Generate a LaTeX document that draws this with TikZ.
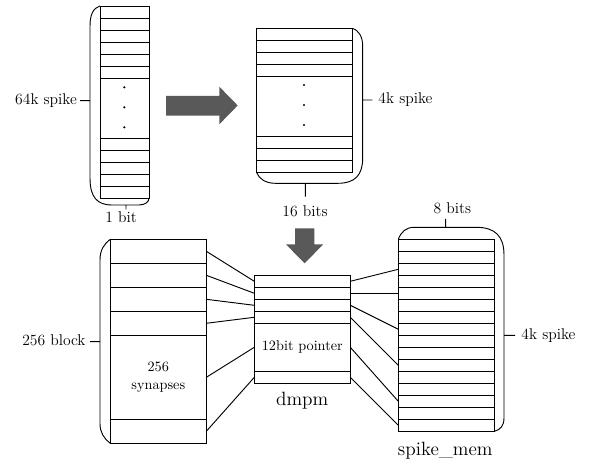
\documentclass[tikz,border=0pt]{standalone}
\usepackage{tikz}
\definecolor{arrgray}{HTML}{595959}

\tikzset{
  cell/.style={rectangle,draw,inner sep=0pt,outer sep=0pt},
  lbl/.style={inner sep=0pt,font=\rmfamily\fontsize{11.7}{14}\selectfont},
  title/.style={inner sep=0pt,font=\rmfamily\fontsize{14.4}{17}\selectfont},
  intext/.style={font=\rmfamily\fontsize{10.7}{13.9}\selectfont,align=center}
}

\begin{document}
\begin{tikzpicture}[x=0.75pt,y=-0.75pt,line width=0.7pt]
\useasboundingbox (0,0) rectangle (591,473);

\foreach \i in {1,...,6} \node (sa\i) at (124.5,12*\i) [cell,minimum width=36.75pt,minimum height=9pt] {};
\node (sadots) at (124.5,108) [cell,minimum width=36.75pt,minimum height=45pt] {};
\foreach \i in {1,...,5} \node (sb\i) at (124.5,132+12*\i) [cell,minimum width=36.75pt,minimum height=9pt] {};
\foreach \y in {87.3,107.3,127.3} \fill (124.3,\y) circle (0.9pt);
\draw (sa1.north west) .. controls (93,8) and (90,15) .. (90,26) -- (90,178) .. controls (90,197) and (97,205) .. (112,205) -- (139,205) .. controls (145,205) and (149,202) .. (sb5.south east)
  (126,205) -- (126,209.3) (90,100.7) -- (80,100.7);
\node (l64) at (77.3,104.5) [lbl,anchor=base east] {64k spike};
\node (l1) at (121,223) [lbl,anchor=base] {1 bit};

\fill [arrgray] (166,96) -- (219.3,96) -- (219.3,86.7) -- (237.7,105.5) -- (219.3,124.3) -- (219.3,115.7) -- (166,115.7) -- cycle;

\foreach \i in {1,...,4} \node (ta\i) at (304.5,22.3+12*\i) [cell,minimum width=72pt,minimum height=9pt] {};
\node (tadots) at (304.5,106.3) [cell,minimum width=72pt,minimum height=45pt] {};
\foreach \i in {1,2,3} \node (tb\i) at (304.5,130.3+12*\i) [cell,minimum width=72pt,minimum height=9pt] {};
\foreach \y in {85,105,125} \fill (304,\y) circle (0.9pt);
\draw (ta1.north east) .. controls (358,30) and (362.7,36) .. (362.7,46) -- (362.7,158) .. controls (362.7,175) and (355,183.3) .. (338,183.3) -- (275,183.3) .. controls (266,183.3) and (259,179) .. (tb3.south west)
  (362.7,100) -- (372.3,100) (305.3,183.3) -- (305.3,196.7);
\node (l4k) at (378,104) [lbl,anchor=base west] {4k spike};
\node (l16) at (305,216.6) [lbl,anchor=base] {16 bits};

\fill [arrgray] (295,228.3) -- (314.3,228.3) -- (314.3,244.3) -- (323.3,244.3) -- (304.6,263.3) -- (285.9,244.3) -- (295,244.3) -- cycle;

\foreach \i in {1,...,4} \node (blk\i) at (158.3,227.3+24*\i) [cell,minimum width=72pt,minimum height=18pt] {};
\node (syn) at (158.3,377.3) [cell,minimum width=72pt,minimum height=63pt,intext] {256\\synapses};
\node (blk5) at (158.3,431.3) [cell,minimum width=72pt,minimum height=18pt] {};
\draw (blk1.north west) .. controls (104,244) and (100,250) .. (100,260) -- (100,424) .. controls (100,432) and (104,439) .. (blk5.south west)
  (100,341.7) -- (90,341.7);
\node (l256) at (86,345.5) [lbl,anchor=base east] {256 block};

\foreach \i in {1,...,4} \node (dp\i) at (302.3,269.3+12*\i) [cell,minimum width=72pt,minimum height=9pt] {};
\node (ptr) at (302.3,347.3) [cell,minimum width=72pt,minimum height=36pt,intext] {12bit pointer};
\node (dp5) at (302.3,377.3) [cell,minimum width=72pt,minimum height=9pt] {};
\node (ldmpm) at (302.2,405.7) [title,anchor=base] {dmpm};

\foreach \i in {1,...,16} \node (sm\i) at (446.3,233.3+12*\i) [cell,minimum width=72pt,minimum height=9pt] {};
\draw (sm1.north west) .. controls (401,232) and (406,227.3) .. (414,227.3) -- (476,227.3) .. controls (495,227.3) and (504,236) .. (504,255) -- (504,418) .. controls (504,426) and (500,430) .. (sm16.south east)
  (445.7,227.3) -- (445.7,219) (504,335.3) -- (515,335.3);
\node (l8) at (452.4,213.3) [lbl,anchor=base] {8 bits};
\node (l4ks) at (521,339.5) [lbl,anchor=base west] {4k spike};
\node (lsm) at (445.3,455.7) [title,anchor=base] {spike\_mem};

\foreach \i in {1,...,4} \draw (blk\i.east) -- (dp\i.west);
\draw (syn.east) -- (ptr.west);
\draw (blk5.east) -- (dp5.west);
\foreach \i/\j in {1/3,2/5,3/8,4/11} \draw (dp\i.east) -- (sm\j.west);
\draw (ptr.east) -- (sm14.west);
\draw (dp5.east) -- (sm16.west);

\end{tikzpicture}
\end{document}
